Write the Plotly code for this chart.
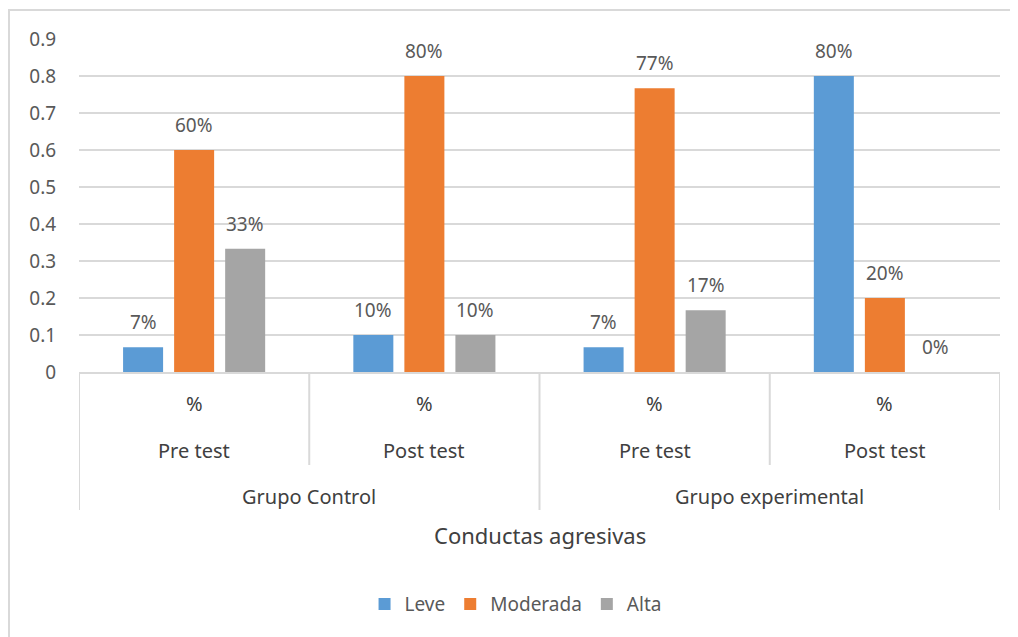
import plotly.graph_objects as go

# ---- data ----
measure = ["%", "%", "%", "%"]
phases = ["Pre test", "Post test", "Pre test", "Post test"]
groups = ["Grupo Control", "Grupo experimental"]
series_names = ["Leve", "Moderada", "Alta"]
leve = [0.067, 0.10, 0.067, 0.80]
moderada = [0.60, 0.80, 0.767, 0.20]
alta = [0.333, 0.10, 0.167, 0.0]
y_ticks = [0, 0.1, 0.2, 0.3, 0.4, 0.5, 0.6, 0.7, 0.8, 0.9]
axis_title = "Conductas agresivas"

colors = ["#5B9BD5", "#ED7D31", "#A5A5A5"]
text_col = "#595959"
label_col = "#404040"
grid_col = "#D9D9D9"
FONT = "Noto Sans"
bargap = 0.335
bargroupgap = 0.216

xs = list(range(len(phases)))
series = [leve, moderada, alta]

fig = go.Figure()
for name, vals, col in zip(series_names, series, colors):
    fig.add_trace(go.Bar(x=xs, y=vals, name=name, marker=dict(color=col, line=dict(width=0))))

annotations = []
slot = (1 - bargap) / len(series)
for k, vals in enumerate(series):
    off = (k - (len(series) - 1) / 2) * slot
    for i, v in enumerate(vals):
        annotations.append(dict(x=xs[i] + off, y=v, xref="x", yref="y", text=f"{v:.0%}",
                                showarrow=False, yanchor="bottom", yshift=10,
                                font=dict(family=FONT, size=19, color=text_col)))

# multi-level category labels
for i in xs:
    annotations.append(dict(x=i, y=0, xref="x", yref="paper", text=measure[i], showarrow=False,
                            yanchor="middle", yshift=-31, font=dict(family=FONT, size=20, color=label_col)))
    annotations.append(dict(x=i, y=0, xref="x", yref="paper", text=phases[i], showarrow=False,
                            yanchor="middle", yshift=-78, font=dict(family=FONT, size=20, color=label_col)))
for g, name in enumerate(groups):
    annotations.append(dict(x=2 * g + 0.5, y=0, xref="x", yref="paper", text=name, showarrow=False,
                            yanchor="middle", yshift=-124, font=dict(family=FONT, size=20, color=label_col)))
annotations.append(dict(x=0.5, y=0, xref="paper", yref="paper", text=axis_title, showarrow=False,
                        yanchor="middle", yshift=-163, font=dict(family=FONT, size=22, color=label_col)))

shapes = []
# separators
for b in range(len(xs) + 1):
    xb = b - 0.5
    long = (b % 2 == 0)
    shapes.append(dict(type="line", xref="x", yref="paper", x0=xb, x1=xb, y0=0,
                       y1=(-138 if long else -93) / 333.0,
                       line=dict(color=grid_col, width=2)))
# outer chart border
shapes.append(dict(type="rect", xref="paper", yref="paper", x0=-70 / 921, x1=1.1, y0=-1.0, y1=362 / 333,
                   line=dict(color=grid_col, width=2), fillcolor="rgba(0,0,0,0)", layer="below"))

fig.update_layout(
    width=1010, height=629,
    margin=dict(l=71, r=18, t=31, b=265),
    paper_bgcolor="white", plot_bgcolor="white",
    barmode="group", bargap=bargap, bargroupgap=bargroupgap,
    font=dict(family=FONT, size=19, color=text_col),
    showlegend=True,
    legend=dict(orientation="h", x=0.474, xanchor="center", y=-0.697, yanchor="middle",
                font=dict(family=FONT, size=19, color=text_col), itemwidth=30,
                traceorder="normal"),
    annotations=annotations,
    shapes=shapes,
    xaxis=dict(range=[-0.5, 3.5], showticklabels=False, showgrid=False, zeroline=False,
               showline=True, linecolor=grid_col, linewidth=2, fixedrange=True),
    yaxis=dict(range=[0, 0.9], tickvals=y_ticks, ticktext=[f"{t:g}" for t in y_ticks],
               showgrid=True, gridcolor=grid_col, gridwidth=2, zeroline=False,
               ticks="outside", ticklen=18, tickcolor="rgba(0,0,0,0)",
               tickfont=dict(family=FONT, size=19, color=text_col), fixedrange=True),
)

fig.write_html("out.html")
